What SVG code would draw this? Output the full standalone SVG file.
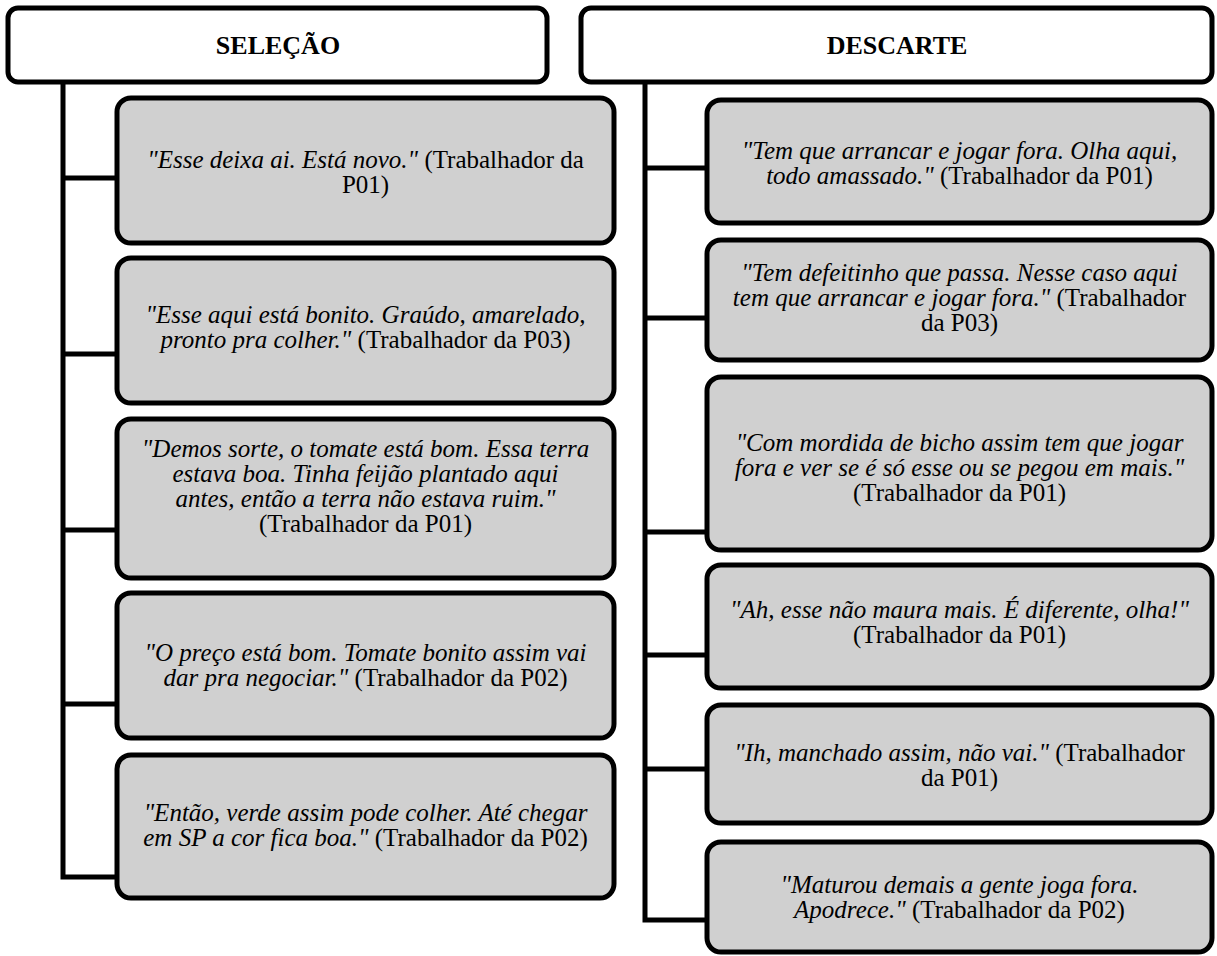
<svg xmlns="http://www.w3.org/2000/svg" width="1217" height="956" viewBox="0 0 1217 956">
<style>
.hdr{fill:#ffffff;stroke:#000;stroke-width:5}
.node{fill:#d0d0d0;stroke:#000;stroke-width:5}
.conn{fill:none;stroke:#000;stroke-width:5}
.ht{font-family:"Liberation Serif",serif;font-weight:bold;font-size:26px;text-anchor:middle;fill:#000}
.t{font-family:"Liberation Serif",serif;font-size:25px;text-anchor:middle;fill:#000}
.i{font-style:italic}
</style>
<rect width="1217" height="956" fill="#ffffff"/>
<g id="connectors">
<path class="conn" d="M63,82 V877 H117 M63,178 H117 M63,354 H117 M63,530 H117 M63,704 H117"/>
<path class="conn" d="M645,82 V920 H707 M645,168 H707 M645,318 H707 M645,532 H707 M645,655 H707 M645,769 H707"/>
</g>
<g id="selecao">
<rect class="hdr" x="8" y="8" width="539" height="74" rx="10"/>
<text class="ht" x="278" y="54">SELEÇÃO</text>
</g>
<g id="descarte">
<rect class="hdr" x="581" y="8" width="631" height="74" rx="10"/>
<text class="ht" x="897" y="54">DESCARTE</text>
</g>
<g id="s1">
<rect class="node" x="117" y="98" width="497" height="145" rx="14"/>
<text class="t"><tspan x="365.5" y="168"><tspan class="i">"Esse deixa ai. Está novo."</tspan> (Trabalhador da</tspan><tspan x="365.5" y="193">P01)</tspan></text>
</g>
<g id="s2">
<rect class="node" x="117" y="258" width="497" height="145" rx="14"/>
<text class="t"><tspan x="365.5" y="323" class="i">"Esse aqui está bonito. Graúdo, amarelado,</tspan><tspan x="365.5" y="348"><tspan class="i">pronto pra colher."</tspan> (Trabalhador da P03)</tspan></text>
</g>
<g id="s3">
<rect class="node" x="117" y="419" width="497" height="159" rx="14"/>
<text class="t"><tspan x="365.5" y="456.5" class="i">"Demos sorte, o tomate está bom. Essa terra</tspan><tspan x="365.5" y="481.5" class="i">estava boa. Tinha feijão plantado aqui</tspan><tspan x="365.5" y="506.5" class="i">antes, então a terra não estava ruim."</tspan><tspan x="365.5" y="531.5">(Trabalhador da P01)</tspan></text>
</g>
<g id="s4">
<rect class="node" x="117" y="593" width="497" height="145" rx="14"/>
<text class="t"><tspan x="365.5" y="661" class="i">"O preço está bom. Tomate bonito assim vai</tspan><tspan x="365.5" y="686"><tspan class="i">dar pra negociar."</tspan> (Trabalhador da P02)</tspan></text>
</g>
<g id="s5">
<rect class="node" x="117" y="755" width="497" height="143" rx="14"/>
<text class="t"><tspan x="365.5" y="821" class="i">"Então, verde assim pode colher. Até chegar</tspan><tspan x="365.5" y="846"><tspan class="i">em SP a cor fica boa."</tspan> (Trabalhador da P02)</tspan></text>
</g>
<g id="d1">
<rect class="node" x="707" y="100" width="505" height="123" rx="14"/>
<text class="t"><tspan x="959.5" y="159" class="i">"Tem que arrancar e jogar fora. Olha aqui,</tspan><tspan x="959.5" y="184"><tspan class="i">todo amassado."</tspan> (Trabalhador da P01)</tspan></text>
</g>
<g id="d2">
<rect class="node" x="707" y="240" width="505" height="120" rx="14"/>
<text class="t"><tspan x="959.5" y="281" class="i">"Tem defeitinho que passa. Nesse caso aqui</tspan><tspan x="959.5" y="306"><tspan class="i">tem que arrancar e jogar fora."</tspan> (Trabalhador</tspan><tspan x="959.5" y="331">da P03)</tspan></text>
</g>
<g id="d3">
<rect class="node" x="707" y="377" width="505" height="173" rx="14"/>
<text class="t"><tspan x="959.5" y="450.5" class="i">"Com mordida de bicho assim tem que jogar</tspan><tspan x="959.5" y="475.5" class="i">fora e ver se é só esse ou se pegou em mais."</tspan><tspan x="959.5" y="500.5">(Trabalhador da P01)</tspan></text>
</g>
<g id="d4">
<rect class="node" x="707" y="565" width="505" height="123" rx="14"/>
<text class="t"><tspan x="959.5" y="618" class="i">"Ah, esse não maura mais. É diferente, olha!"</tspan><tspan x="959.5" y="643">(Trabalhador da P01)</tspan></text>
</g>
<g id="d5">
<rect class="node" x="707" y="705" width="505" height="118" rx="14"/>
<text class="t"><tspan x="959.5" y="761"><tspan class="i">"Ih, manchado assim, não vai."</tspan> (Trabalhador</tspan><tspan x="959.5" y="786">da P01)</tspan></text>
</g>
<g id="d6">
<rect class="node" x="707" y="842" width="505" height="110" rx="14"/>
<text class="t"><tspan x="959.5" y="893" class="i">"Maturou demais a gente joga fora.</tspan><tspan x="959.5" y="918"><tspan class="i">Apodrece."</tspan> (Trabalhador da P02)</tspan></text>
</g>
</svg>
